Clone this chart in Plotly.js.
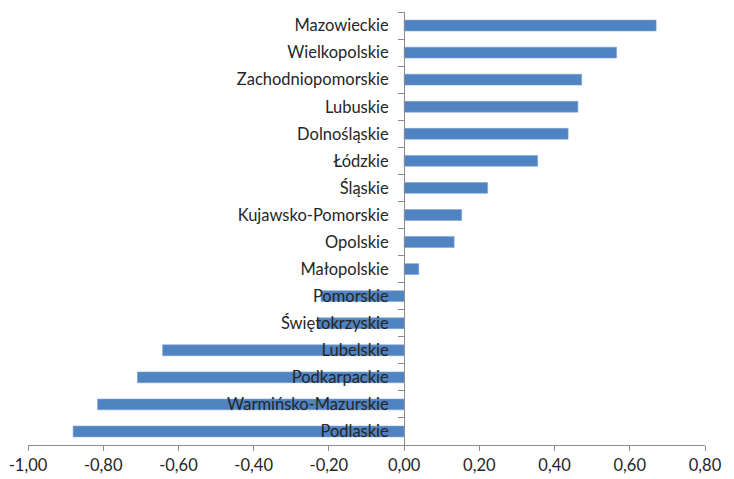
<!DOCTYPE html>
<html>
<head>
<meta charset="utf-8">
<script src="https://cdn.plot.ly/plotly-3.0.1.min.js"></script>
<style>html,body{margin:0;padding:0;background:#fff}#chart{width:734px;height:479px}</style>
</head>
<body>
<div id="chart"></div>
<script>
const regions = ["Mazowieckie","Wielkopolskie","Zachodniopomorskie","Lubuskie","Dolnośląskie","Łódzkie","Śląskie","Kujawsko-Pomorskie","Opolskie","Małopolskie","Pomorskie","Świętokrzyskie","Lubelskie","Podkarpackie","Warmińsko-Mazurskie","Podlaskie"];
const values = [0.670,0.565,0.472,0.462,0.436,0.355,0.222,0.153,0.133,0.039,-0.221,-0.231,-0.642,-0.709,-0.815,-0.880];
const xTickVals = [-1.0,-0.8,-0.6,-0.4,-0.2,0.0,0.2,0.4,0.6,0.8];
const xTickText = ["-1,00","-0,80","-0,60","-0,40","-0,20","0,00","0,20","0,40","0,60","0,80"];

const xMin = -1.0, xMax = 0.8;
const trace = {
  type: 'bar',
  orientation: 'h',
  x: values,
  y: regions,
  marker: {color: '#4F83C1', line: {color: '#7FA3D3', width: 0.6}},
  hoverinfo: 'x+y'
};
const layout = {
  width: 734, height: 479,
  margin: {l: 28, r: 29, t: 12, b: 34},
  paper_bgcolor: '#ffffff', plot_bgcolor: '#ffffff',
  showlegend: false,
  bargap: 0.6,
  font: {family: 'Lato, "Open Sans", sans-serif', size: 16.5, color: '#262626'},
  xaxis: {
    range: [xMin, xMax],
    tickvals: xTickVals, ticktext: xTickText,
    showgrid: false, zeroline: false,
    showline: true, linecolor: '#8c8c8c', linewidth: 1,
    ticks: 'outside', ticklen: 5, tickcolor: '#8c8c8c',
    tickfont: {size: 16.5, color: '#262626'},
    fixedrange: true
  },
  yaxis: {
    type: 'category',
    autorange: 'reversed',
    anchor: 'free',
    position: (0 - xMin) / (xMax - xMin),
    showgrid: false, zeroline: false,
    showline: true, linecolor: '#8c8c8c', linewidth: 1,
    ticks: 'outside', ticklen: 6, tickcolor: '#8c8c8c',
    tickson: 'boundaries',
    ticklabelstandoff: 12,
    tickfont: {size: 16.5, color: '#262626'},
    layer: 'above traces',
    fixedrange: true
  }
};
Plotly.newPlot('chart', [trace], layout, {displayModeBar: false, staticPlot: true});
</script>
</body>
</html>
